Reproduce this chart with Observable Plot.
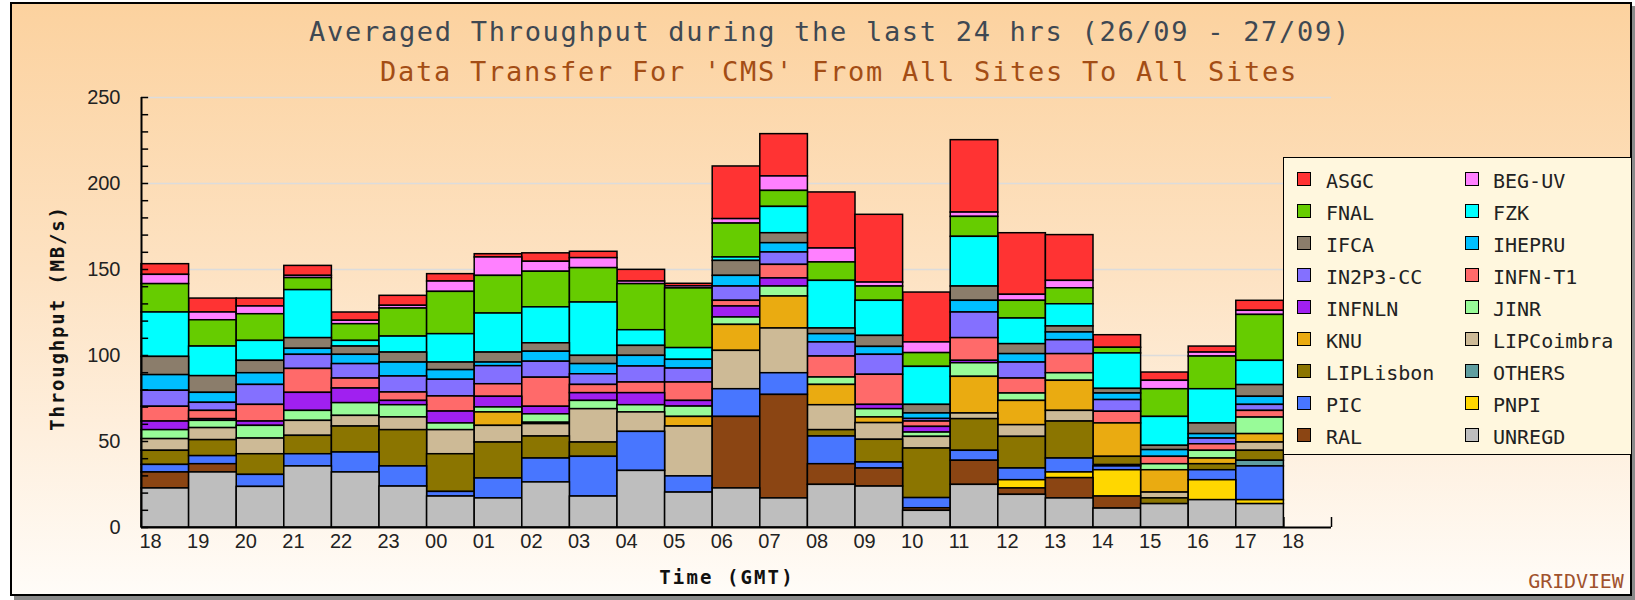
<!DOCTYPE html>
<html><head><meta charset="utf-8">
<script src="https://cdn.jsdelivr.net/npm/d3@7"></script>
<script src="https://cdn.jsdelivr.net/npm/@observablehq/plot@0.6"></script>
<style>
html,body{margin:0;padding:0;background:#fff;}
#wrap{position:relative;width:1635px;height:600px;overflow:hidden;}
#frame{position:absolute;left:10px;top:2px;width:1618px;height:590px;border:2px solid #000;
  background:linear-gradient(#fcd29f 0%,#fde2c2 45%,#fffcf8 100%);box-shadow:4px 4px 0 #8a8a8a;}
#chart{position:absolute;left:0;top:0;}
#legend{position:absolute;left:1283px;top:157px;width:347px;height:296px;border:1.5px solid #000;background:#fff7de;}
.item{position:absolute;font-family:"DejaVu Sans Mono",monospace;font-size:20px;color:#222;line-height:1;white-space:nowrap;}
.sw{position:absolute;width:12px;height:12px;border:1.5px solid #000;}
</style></head>
<body><div id="wrap"><div id="frame"></div><div id="chart"></div><div id="legend"></div></div>
<script>
const hours = ["18","19","20","21","22","23","00","01","02","03","04","05","06","07","08","09","10","11","12","13","14","15","16","17","18"];
const sites = ["ASGC","BEG-UV","FNAL","FZK","IFCA","IHEPRU","IN2P3-CC","INFN-T1","INFNLN","JINR","KNU","LIPCoimbra","LIPLisbon","OTHERS","PIC","PNPI","RAL","UNREGD"];
const siteColors = ["#ff3333","#ff80ff","#66cc00","#00ffff","#8b7d6b","#00bfff","#8470ff","#ff6a6a","#a020f0","#98fb98","#eaab11","#cdba96","#8b7500","#5f9ea0","#4876ff","#ffd700","#8b4513","#bebebe"];

// values per site, one per hour bar (18 ... 17)
const ASGC       = [6.2,8.1,4.6,5.8,4.8,5.8,4.3,1.9,4.9,3.7,6.8,1.5,30.6,24.6,32.6,39.4,29.0,42.1,35.8,26.6,7.3,4.8,3.5,5.8];
const BEG_UV     = [5.4,4.5,4.5,1.3,2.0,1.6,6.0,10.7,5.8,5.8,1.5,1.2,2.6,8.4,8.1,2.3,6.2,2.5,3.5,4.3,0,4.9,2.3,2.4];
const FNAL       = [16.5,15.3,15.5,7.0,9.7,16.3,24.6,21.9,20.7,20.0,26.8,34.7,19.7,9.3,10.7,8.3,8.0,11.6,10.3,9.3,3.3,16.1,19.0,26.7];
const FZK        = [25.8,17.2,11.6,27.9,3.3,9.3,16.5,22.7,20.9,31.0,9.1,6.8,2.0,15.3,27.7,20.4,22.1,28.9,14.9,12.9,20.6,16.8,19.9,14.1];
const IFCA       = [10.6,9.7,7.2,6.2,4.8,5.8,4.4,5.8,4.9,4.8,5.8,0,8.7,5.8,3.3,6.4,5.0,8.3,5.8,3.5,2.7,2.5,6.2,6.8];
const IHEPRU     = [9.1,5.8,6.8,3.5,5.4,8.1,5.6,2.1,5.8,5.9,6.2,5.1,6.2,5.4,4.8,4.6,3.2,6.8,4.9,4.5,3.8,3.9,2.6,4.7];
const IN2P3_CC   = [9.3,4.7,11.6,8.2,8.4,9.3,9.7,10.5,9.3,6.2,9.3,8.1,8.3,7.2,8.2,11.6,1.5,14.9,9.3,8.1,6.8,0,3.3,3.5];
const INFN_T1    = [8.6,4.8,9.7,13.9,5.8,4.9,8.8,7.3,16.9,4.8,6.2,10.7,3.3,7.9,12.2,17.5,3.1,13.2,8.7,11.1,6.8,4.3,3.8,3.9];
const INFNLN     = [5.0,1.0,2.5,10.5,8.5,2.5,6.9,6.2,4.4,4.5,7.0,3.3,6.4,4.7,0,2.5,3.3,1.4,0,0,0,0,0,0];
const JINR       = [5.2,4.2,7.4,5.8,7.4,7.1,3.9,2.9,4.9,4.8,4.2,6.0,4.3,5.8,4.3,4.8,2.5,7.9,4.3,4.4,0,3.5,4.5,9.6];
const KNU        = [0,0,0,0,0,0,0,7.8,0.8,0,0,5.6,15.1,18.6,11.8,3.3,0,21.3,14.1,17.5,19.4,13.0,3.3,4.9];
const LIPCoimbra = [6.8,7.0,9.1,8.7,6.2,7.4,14.0,9.7,7.2,19.4,11.3,29.0,22.3,26.0,14.5,9.7,6.8,3.3,6.8,6.2,0,3.4,0,4.8];
const LIPLisbon  = [8.2,9.3,12.0,10.7,15.1,21.1,21.9,20.9,12.8,8.3,0,0,0,0,3.7,13.2,28.8,18.4,18.4,21.5,4.8,3.3,3.5,5.8];
const OTHERS     = [0,0,0,0,0,0,0,0,0,0,0,0,0,0,0,0,0,0,0,0,0.8,0,0,3.3];
const PIC        = [4.4,4.7,7.0,7.1,11.6,11.7,2.7,11.6,13.9,23.1,22.7,9.4,16.1,12.6,16.1,3.5,5.9,5.8,6.8,8.1,2.2,0,5.8,19.6];
const PNPI       = [0,0,0,0,0,0,0,0,0,0,0,0,0,0,0,0,0,0,4.8,3.3,15.3,0,11.6,2.3];
const RAL        = [9.3,4.8,0,0,0,0,0,0,0,0,0,0,41.6,60.2,12.0,10.5,1.5,14.0,3.7,11.8,7.0,0,0,0];
const UNREGD     = [22.7,32.0,23.6,35.5,32.0,23.8,18.0,16.9,26.2,18.0,32.9,20.3,22.7,16.9,24.8,23.8,9.7,24.8,19.0,16.9,11.0,13.6,15.9,13.6];

const seriesValues = [ASGC,BEG_UV,FNAL,FZK,IFCA,IHEPRU,IN2P3_CC,INFN_T1,INFNLN,JINR,KNU,LIPCoimbra,LIPLisbon,OTHERS,PIC,PNPI,RAL,UNREGD];
const stackOrder = sites.slice().reverse(); // bottom first

const rows = [];
sites.forEach((s, k) => seriesValues[k].forEach((v, i) => { if (v > 0) rows.push({site: s, i, v}); }));

const tickFont = "Liberation Sans, Arial, sans-serif";
const plot = Plot.plot({
  width: 1635, height: 600,
  marginLeft: 141, marginRight: 304, marginTop: 97, marginBottom: 73,
  style: {background: "transparent", overflow: "visible"},
  x: {type: "linear", domain: [0, 25], axis: null},
  y: {domain: [0, 250], axis: null},
  color: {domain: sites, range: siteColors},
  marks: [
    Plot.ruleY([50, 100, 150, 200, 250], {x1: 0, x2: 25, stroke: "#dcdcdc", strokeWidth: 1.5}),
    Plot.ruleX(d3.range(26), {y1: 0, y2: 5.8, stroke: "#000", strokeWidth: 1.5}),
    Plot.rectY(rows, {x1: "i", x2: d => d.i + 1, y: "v", z: "site", fill: "site", order: stackOrder, stroke: "#000", strokeWidth: 1.5}),
    Plot.ruleY(d3.range(0, 251, 10), {x1: 0, x2: 0.15, stroke: "#000", strokeWidth: 1.5}),
    Plot.ruleX([0], {y1: 0, y2: 250, stroke: "#000", strokeWidth: 2}),
    Plot.ruleY([0], {x1: 0, x2: 25, stroke: "#000", strokeWidth: 2}),
    Plot.axisY({ticks: d3.range(0, 251, 50), tickSize: 0, tickPadding: 21, fontSize: 20, fontFamily: tickFont, fill: "#222", label: null}),
    Plot.axisX({ticks: d3.range(25), tickFormat: i => hours[i], tickSize: 0, tickPadding: 6, textAnchor: "start", dx: -2, fontSize: 20, fontFamily: tickFont, fill: "#222", label: null})
  ]
});
document.getElementById("chart").appendChild(plot);

const wrap = document.getElementById("wrap");
function place(text, {cx, cy, w, size, weight = "normal", color, rotate = false, font = "DejaVu Sans Mono, monospace"}) {
  const d = document.createElement("div");
  d.textContent = text;
  Object.assign(d.style, {position: "absolute", left: cx + "px", top: cy + "px", whiteSpace: "nowrap",
    fontFamily: font, fontSize: size + "px", fontWeight: weight, color, lineHeight: "1"});
  wrap.appendChild(d);
  const ls = (w - d.offsetWidth) / text.length;
  d.style.letterSpacing = ls + "px";
  d.style.transform = "translate(-50%,-50%)" + (rotate ? " rotate(-90deg)" : "");
}
place("Averaged Throughput during the last 24 hrs (26/09 - 27/09)", {cx: 830, cy: 31, w: 1042, size: 27, color: "#3f4852"});
place("Data Transfer For 'CMS' From All Sites To All Sites", {cx: 839, cy: 71, w: 918, size: 27, color: "#a34d15"});
place("Throughput (MB/s)", {cx: 57, cy: 318, w: 225, size: 19, weight: "bold", color: "#111", rotate: true});
place("Time (GMT)", {cx: 727, cy: 577, w: 135, size: 19, weight: "bold", color: "#111"});
place("GRIDVIEW", {cx: 1576, cy: 581, w: 95, size: 20, color: "#a0522d"});

// legend
const legend = document.getElementById("legend");
sites.forEach((s, k) => {
  const col = k % 2, row = Math.floor(k / 2);
  const cy = 21 + row * 32;
  const sw = document.createElement("div");
  sw.className = "sw";
  Object.assign(sw.style, {left: (col ? 181 : 13) + "px", top: (cy - 7.5) + "px", background: siteColors[k]});
  legend.appendChild(sw);
  const t = document.createElement("div");
  t.className = "item";
  t.textContent = s;
  Object.assign(t.style, {left: (col ? 209 : 42) + "px", top: (cy - 8) + "px"});
  legend.appendChild(t);
});
</script></body></html>
